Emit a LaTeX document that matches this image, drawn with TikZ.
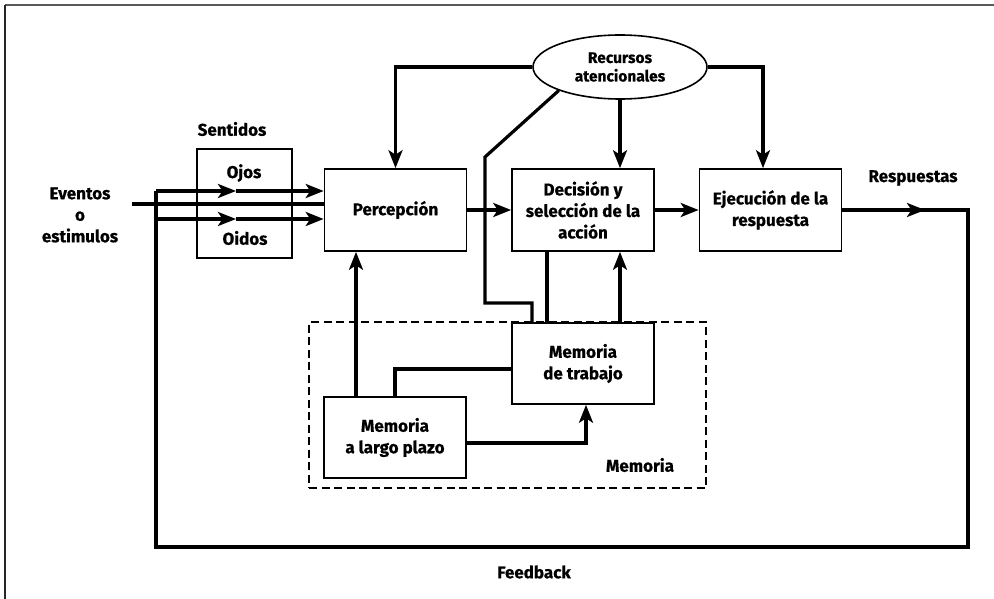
\documentclass[tikz,border=0pt]{standalone}
\usepackage{fontspec}
\setmainfont{Fira Sans}[BoldFeatures={FakeBold=0.6}]
\usetikzlibrary{arrows.meta,shapes.geometric}
\begin{document}
\begin{tikzpicture}[x=1pt,y=-1pt,
  txt/.style={font=\bfseries\fontsize{17}{21.5}\selectfont},
  box/.style={draw,line width=1.6pt,minimum width=142pt,minimum height=82pt,align=center,inner sep=0pt,txt},
  lbl/.style={align=center,inner sep=0pt,txt},
  conn/.style={line width=3.2pt},
  arr/.style={conn,-{Stealth[length=18pt,width=14pt,inset=4.5pt]}},
]
\useasboundingbox (0,0) rectangle (994,599);
\draw[line width=2pt,color=black!65] (5,5) -- (994,5);
\draw[line width=2pt,color=black!85] (5,5) -- (5,599);

% boxes
\node[box] (per) at (395.5,210) {Percepción};
\node[box] (dec) at (583,210) {Decisión y\\selección de la\\acción};
\node[box] (eje) at (770.5,210) {Ejecución de la\\respuesta};
\node[box,minimum width=95pt,minimum height=109pt] (sen) at (244.5,203.5) {};
\node[lbl] (ojos) at (244,173) {Ojos};
\node[lbl] (oidos) at (245,238) {Oidos};
\node[lbl] (sentl) at (232,129) {Sentidos};
\node[lbl] (ev) at (80,215) {Eventos\\o\\estimulos};
\node[lbl] (resp) at (913,178) {Respuestas};
\node[lbl] (fb) at (534,572) {Feedback};
\node[draw,ellipse,line width=1.6pt,minimum width=174pt,minimum height=64pt,inner sep=0pt,align=center,
      font=\bfseries\fontsize{15.5}{18.5}\selectfont] (rec) at (620,67) {Recursos\\atencionales};
\node[draw,dash pattern=on 8pt off 4.5pt,line width=2.6pt,minimum width=397pt,minimum height=166pt,inner sep=0pt] (mem) at (507.5,405) {};
\node[box,minimum height=81pt,fill=white] (mdt) at (583,363.5) {Memoria\\de trabajo};
\node[box,minimum height=81pt] (ltm) at (395,437.5) {Memoria\\a largo plazo};
\node[lbl] (meml) at (640,465) {Memoria};

% coordinates
\coordinate (u0) at (156,191);
\coordinate (u1) at (236,191);
\coordinate (m0) at (132,204);
\coordinate (l0) at (156,219);
\coordinate (l1) at (236,219);
\coordinate (r1) at (925,210);
\coordinate (fbR) at (968,547);
\coordinate (d1) at (485,157);
\coordinate (d2) at (485,303);
\coordinate (d3) at (532,303);

% input lines
\draw[arr] (u0) -- (u1);
\draw[arr] (u1) -- (u1 -| per.west);
\draw[conn] (m0) -- (m0 -| per.west);
\draw[arr] (l0) -- (l1);
\draw[arr] (l1) -- (l1 -| per.west);

% main flow
\draw[arr] (per.east) -- (dec.west);
\draw[arr] (dec.east) -- (eje.west);
\draw[conn] (eje.east) -- (eje.east -| fbR) -- (fbR) -- (fbR -| u0) -- (u0);
\draw[arr] (eje.east) -- (r1);

% attention
\draw[arr] (rec.west) -| (per.north);
\draw[arr] (rec.east) -| ([xshift=-7.5pt]eje.north);
\draw[arr] (rec.south) -- (rec.south |- dec.north);
\draw[conn] (rec.201) -- (d1) -- (d2) -- (d3) -- (d3 |- mdt.north);

% memory links
\draw[conn] ([xshift=-36pt]dec.south) -- ([xshift=-36pt]dec.south |- mdt.north);
\draw[arr] ([xshift=37pt]mdt.north) -- ([xshift=37pt]dec.south);
\draw[arr] ([xshift=-39pt]ltm.north) -- ([xshift=-39pt]ltm.north |- per.south);
\draw[conn] (ltm.north) |- ([yshift=-5.5pt]mdt.west);
\draw[arr] ([yshift=-5.5pt]ltm.east) -| ([xshift=3pt]mdt.south);
\end{tikzpicture}
\end{document}
